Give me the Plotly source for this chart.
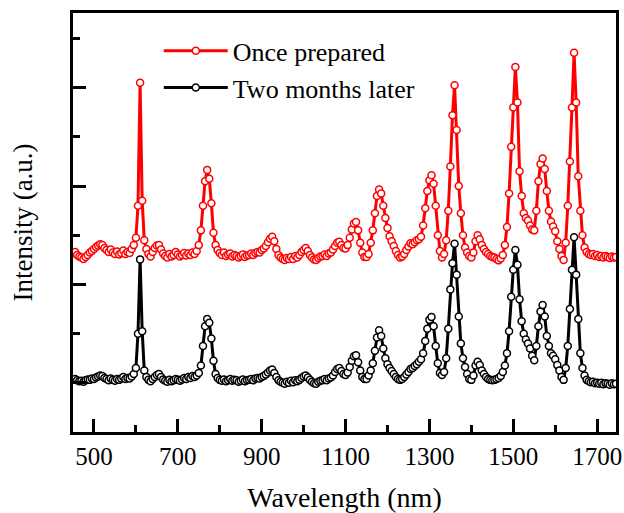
import numpy as np
import plotly.graph_objects as go

# Wavelength grid (nm), 5 nm sampling
wavelength = np.arange(450, 1750, 5)

# Spectrum measured right after preparation (offset upward)
once_prepared = [
    3.64, 3.66, 3.60, 3.57, 3.55, 3.52, 3.56, 3.60, 3.65, 3.68, 3.72, 3.76, 3.79, 3.82, 3.80, 3.74, 3.70, 3.66, 3.71, 3.65,
    3.62, 3.67, 3.61, 3.64, 3.69, 3.62, 3.66, 3.64, 3.72, 3.80, 3.95, 4.60, 7.10, 4.70, 3.90, 3.72, 3.62, 3.57, 3.66, 3.74,
    3.79, 3.80, 3.71, 3.63, 3.58, 3.55, 3.62, 3.57, 3.60, 3.66, 3.61, 3.57, 3.60, 3.64, 3.59, 3.63, 3.60, 3.65, 3.62, 3.68,
    3.80, 4.10, 4.60, 5.10, 5.33, 5.15, 4.65, 4.05, 3.80, 3.70, 3.64, 3.60, 3.65, 3.58, 3.61, 3.63, 3.57, 3.60, 3.58, 3.55,
    3.58, 3.61, 3.56, 3.59, 3.60, 3.63, 3.60, 3.64, 3.66, 3.65, 3.70, 3.73, 3.78, 3.86, 3.93, 3.97, 3.88, 3.72, 3.60, 3.55,
    3.52, 3.50, 3.54, 3.52, 3.56, 3.52, 3.58, 3.55, 3.60, 3.66, 3.70, 3.74, 3.68, 3.60, 3.55, 3.51, 3.50, 3.54, 3.57, 3.58,
    3.61, 3.58, 3.63, 3.65, 3.71, 3.78, 3.85, 3.87, 3.80, 3.74, 3.73, 3.80, 3.95, 4.12, 4.24, 4.27, 4.10, 3.85, 3.65, 3.56,
    3.56, 3.62, 3.85, 4.10, 4.45, 4.80, 4.93, 4.85, 4.60, 4.35, 4.15, 3.98, 3.88, 3.78, 3.68, 3.60, 3.55, 3.57, 3.62, 3.70,
    3.77, 3.84, 3.82, 3.86, 3.90, 3.92, 3.97, 4.20, 4.55, 4.90, 5.12, 5.22, 5.05, 4.60, 4.00, 3.68, 3.55, 3.62, 3.90, 4.50,
    5.40, 6.44, 7.05, 6.14, 5.00, 4.45, 4.00, 3.75, 3.65, 3.58, 3.55, 3.65, 3.88, 4.00, 3.92, 3.80, 3.72, 3.66, 3.62, 3.58,
    3.56, 3.55, 3.52, 3.49, 3.53, 3.60, 3.80, 4.17, 4.85, 5.80, 6.60, 7.42, 6.70, 5.30, 4.80, 4.45, 4.35, 4.30, 4.20, 4.12,
    4.10, 4.50, 5.10, 5.45, 5.56, 5.35, 4.90, 4.50, 4.28, 4.18, 4.08, 3.88, 3.72, 3.58, 3.50, 3.85, 4.60, 5.50, 6.60, 7.71,
    6.70, 5.20, 4.50, 4.00, 3.75, 3.66, 3.62, 3.60, 3.62, 3.58, 3.60, 3.56, 3.58, 3.55, 3.58, 3.56, 3.54, 3.57, 3.55, 3.56,
]

# Same sample measured two months later
two_months_later = [
    1.06, 1.08, 1.05, 1.03, 1.04, 1.02, 1.05, 1.07, 1.06, 1.09, 1.08, 1.11, 1.13, 1.15, 1.14, 1.10, 1.08, 1.05, 1.09, 1.06,
    1.04, 1.08, 1.06, 1.09, 1.12, 1.08, 1.10, 1.09, 1.13, 1.18, 1.30, 2.00, 3.51, 2.05, 1.25, 1.12, 1.06, 1.03, 1.08, 1.12,
    1.16, 1.18, 1.12, 1.07, 1.04, 1.02, 1.06, 1.03, 1.05, 1.08, 1.06, 1.04, 1.07, 1.10, 1.08, 1.12, 1.10, 1.14, 1.12, 1.15,
    1.20, 1.35, 1.75, 2.15, 2.30, 2.22, 1.90, 1.45, 1.18, 1.10, 1.06, 1.04, 1.07, 1.03, 1.05, 1.08, 1.04, 1.06, 1.05, 1.02,
    1.04, 1.07, 1.03, 1.05, 1.06, 1.08, 1.05, 1.09, 1.10, 1.09, 1.12, 1.14, 1.17, 1.21, 1.25, 1.27, 1.20, 1.12, 1.05, 1.02,
    1.00, 0.98, 1.02, 1.00, 1.04, 1.01, 1.05, 1.03, 1.06, 1.10, 1.13, 1.15, 1.11, 1.06, 1.02, 0.99, 0.98, 1.02, 1.04, 1.05,
    1.08, 1.05, 1.09, 1.11, 1.15, 1.22, 1.28, 1.30, 1.24, 1.18, 1.16, 1.21, 1.32, 1.45, 1.54, 1.56, 1.42, 1.25, 1.12, 1.08,
    1.08, 1.15, 1.25, 1.40, 1.65, 1.92, 2.07, 1.95, 1.70, 1.50, 1.38, 1.30, 1.24, 1.18, 1.12, 1.08, 1.06, 1.08, 1.12, 1.17,
    1.22, 1.28, 1.30, 1.34, 1.38, 1.43, 1.48, 1.60, 1.85, 2.10, 2.28, 2.34, 2.15, 1.75, 1.40, 1.20, 1.16, 1.22, 1.50, 2.10,
    2.90, 3.43, 3.83, 3.20, 2.35, 1.80, 1.50, 1.32, 1.18, 1.08, 1.06, 1.15, 1.35, 1.43, 1.36, 1.25, 1.18, 1.12, 1.08, 1.06,
    1.05, 1.06, 1.08, 1.10, 1.14, 1.22, 1.35, 1.60, 2.05, 2.75, 3.30, 3.70, 3.40, 2.70, 2.25, 2.00, 1.88, 1.80, 1.70, 1.55,
    1.46, 1.75, 2.15, 2.45, 2.58, 2.35, 1.95, 1.75, 1.60, 1.55, 1.48, 1.36, 1.25, 1.12, 1.06, 1.30, 1.75, 2.50, 3.30, 3.96,
    3.20, 2.30, 1.60, 1.30, 1.15, 1.06, 1.03, 1.01, 1.02, 0.99, 1.00, 0.98, 1.00, 0.97, 0.99, 0.98, 0.96, 0.99, 0.97, 0.98,
]

x_ticks = [500, 700, 900, 1100, 1300, 1500, 1700]

FONT = "Liberation Serif"

fig = go.Figure()

series = [
    ("Once prepared", once_prepared, "#ff0000"),
    ("Two months later", two_months_later, "#000000"),
]
for name, values, color in series:
    fig.add_trace(go.Scatter(
        x=wavelength,
        y=values,
        name=name,
        mode="lines+markers",
        line=dict(color=color, width=3),
        marker=dict(symbol="circle", size=7, color="white",
                    line=dict(color=color, width=1.5)),
    ))

axis_common = dict(
    showline=True, linewidth=3, linecolor="black", mirror=True,
    showgrid=False, zeroline=False, automargin=False,
    ticks="inside", ticklen=13, tickwidth=3, tickcolor="black",
)

fig.update_xaxes(
    **axis_common,
    range=[450, 1745],
    tickvals=x_ticks,
    minor=dict(ticks="inside", ticklen=7, tickwidth=3, tickcolor="black",
               tick0=500, dtick=100),
    tickfont=dict(family=FONT, size=25, color="black"),
    title=dict(text="Wavelength (nm)", font=dict(family=FONT, size=28, color="black"),
               standoff=26),
)

fig.update_yaxes(
    **axis_common,
    range=[0, 8.52],
    tick0=1, dtick=2,
    showticklabels=False,
    minor=dict(ticks="inside", ticklen=7, tickwidth=3, tickcolor="black",
               tick0=0, dtick=1),
    title=dict(text="Intensity (a.u.)", font=dict(family=FONT, size=27, color="black"),
               standoff=30),
)

fig.update_layout(
    width=624, height=513,
    margin=dict(l=73, r=8, t=13, b=81),
    paper_bgcolor="white", plot_bgcolor="white",
    showlegend=True,
    legend=dict(
        x=0.158, y=0.966, xanchor="left", yanchor="top",
        bgcolor="rgba(0,0,0,0)", borderwidth=0,
        font=dict(family=FONT, size=26, color="black"),
        itemwidth=64, tracegroupgap=0,
    ),
)

fig.write_html("out.html")
